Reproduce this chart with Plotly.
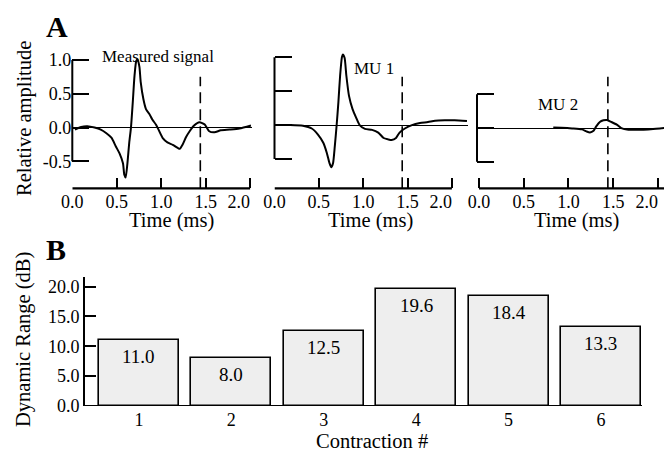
import plotly.graph_objects as go

# ---- data -------------------------------------------------------------
# Panel A: measured signal and the two decomposed motor-unit potentials
t_measured = [0.03, 0.10, 0.17, 0.25, 0.32, 0.38, 0.44, 0.49, 0.53, 0.57, 0.585,
              0.60, 0.62, 0.64, 0.66, 0.68, 0.70, 0.72, 0.735, 0.755, 0.77, 0.80,
              0.83, 0.87, 0.90, 0.94, 0.97, 1.02, 1.07, 1.13, 1.19, 1.21, 1.24,
              1.28, 1.32, 1.37, 1.43, 1.49, 1.54, 1.60, 1.67, 1.77, 1.88, 2.01]
a_measured = [-0.03, 0.01, 0.02, 0.0, -0.03, -0.08, -0.15, -0.28, -0.38, -0.53, -0.70,
              -0.74, -0.53, -0.23, 0.0, 0.37, 0.77, 0.99, 1.01, 0.90, 0.67, 0.42,
              0.27, 0.195, 0.12, 0.045, -0.03, -0.16, -0.22, -0.255, -0.305, -0.315, -0.255,
              -0.14, -0.055, 0.03, 0.08, 0.045, -0.055, -0.07, -0.04, -0.03, -0.015, 0.03]

t_mu1 = [0.03, 0.17, 0.32, 0.42, 0.49, 0.55, 0.59, 0.62, 0.64, 0.66, 0.68, 0.70,
         0.72, 0.74, 0.76, 0.77, 0.79, 0.81, 0.84, 0.88, 0.92, 0.96, 1.02, 1.10,
         1.17, 1.23, 1.28, 1.32, 1.37, 1.41, 1.47, 1.55, 1.64, 1.73, 1.81, 1.92,
         2.03, 2.17]
a_mu1 = [0.0, 0.0, -0.01, -0.05, -0.14, -0.26, -0.41, -0.56, -0.62, -0.56, -0.31, -0.01,
         0.33, 0.73, 1.0, 1.04, 0.99, 0.73, 0.43, 0.235, 0.11, 0.0, -0.055, -0.07,
         -0.11, -0.19, -0.21, -0.22, -0.19, -0.11, -0.05, 0.0, 0.03, 0.045, 0.065, 0.07,
         0.07, 0.06]

t_mu2 = [0.83, 0.92, 1.04, 1.15, 1.20, 1.24, 1.28, 1.31, 1.35, 1.39, 1.43, 1.48,
         1.54, 1.59, 1.67, 1.78, 1.89, 2.02, 2.07]
a_mu2 = [0.01, 0.005, -0.005, -0.02, -0.05, -0.065, -0.04, 0.025, 0.09, 0.115, 0.12, 0.09,
         0.05, 0.0, -0.025, -0.025, -0.02, -0.005, 0.0]

marker_time = 1.44          # dashed reference instant (ms)

time_ticks = [0.0, 0.5, 1.0, 1.5, 2.0]
# last label is right-aligned on its tick (padded with no-break spaces)
time_tick_text = ["0.0", "0.5", "1.0", "1.5", "2.0" + "\u00a0" * 5]
amp_ticks = [-0.5, 0.0, 0.5, 1.0]
amp_tick_text = ["-0.5", "0.0", "0.5", "1.0"]

# Panel B: dynamic range per contraction
contractions = [1, 2, 3, 4, 5, 6]
dynamic_range = [11.0, 8.0, 12.5, 19.6, 18.4, 13.3]
dr_ticks = [0, 5, 10, 15, 20]
dr_tick_text = ["0.0", "5.0", "10.0", "15.0", "20.0"]

# ---- figure -----------------------------------------------------------
W, H = 664, 451
FONT = "Liberation Serif"


def px(x):
    return x / W


def py(y):
    return 1 - y / H


fig = go.Figure()

signals = [(t_measured, a_measured, "x", "y"),
           (t_mu1, a_mu1, "x2", "y2"),
           (t_mu2, a_mu2, "x3", "y3")]
for t, a, xr, yr in signals:
    fig.add_trace(go.Scatter(x=t, y=a, mode="lines", xaxis=xr, yaxis=yr,
                             line=dict(color="black", width=2, shape="spline", smoothing=0.6),
                             hoverinfo="skip", showlegend=False))

fig.add_trace(go.Bar(x=contractions, y=dynamic_range, xaxis="x4", yaxis="y4",
                     width=0.866, marker=dict(color="#eeeeee", line=dict(color="black", width=1.6)),
                     hoverinfo="skip", showlegend=False))
# value labels just below the top of each bar
for c, v in zip(contractions, dynamic_range):
    fig.add_annotation(x=c, y=v, xref="x4", yref="y4", text=f"{v:.1f}",
                       showarrow=False, yanchor="top", yshift=-4,
                       font=dict(family=FONT, size=19, color="black"))

tick_font = dict(family=FONT, size=18, color="black")

# panel geometry (pixel edges) and value ranges
panels = [
    # xaxis, yaxis, x-left px, x-right px, x range, y range, y tick values, show y labels
    ("xaxis", "yaxis", 72.3, 251.7, [0, 2.018], [-0.90, 1.15], amp_ticks, True),
    ("xaxis2", "yaxis2", 274.5, 467.5, [0, 2.176], [-0.93, 1.105], amp_ticks, False),
    ("xaxis3", "yaxis3", 477.0, 664.0, [-0.022, 2.067], [-0.893, 1.157], amp_ticks[:3], False),
]
top_px, bottom_px = 50.0, 188.3
layout_axes = {}
for i, (xa, ya, xl, xr, xrng, yrng, yt, ylab) in enumerate(panels):
    xname = "x" if i == 0 else f"x{i + 1}"
    yname = "y" if i == 0 else f"y{i + 1}"
    layout_axes[xa] = dict(domain=[px(xl), px(xr)], range=xrng, anchor=yname,
                           showline=False, showgrid=False, zeroline=False,
                           ticks="inside", ticklen=10, tickwidth=2, tickcolor="black",
                           tickvals=time_ticks, ticktext=time_tick_text,
                           ticklabelstandoff=1, ticklabeloverflow="allow",
                           tickfont=tick_font, fixedrange=True)
    layout_axes[ya] = dict(domain=[py(bottom_px), py(top_px)], range=yrng, anchor=xname,
                           showline=False, showgrid=False,
                           zeroline=True, zerolinecolor="black", zerolinewidth=1.3,
                           ticks="inside", ticklen=17, tickwidth=2, tickcolor="black",
                           tickvals=yt, ticktext=amp_tick_text[:len(yt)],
                           showticklabels=ylab, tickfont=tick_font, fixedrange=True)

    # bracket-style axis lines spanning the tick range
    fig.add_shape(type="line", xref=xname, yref=f"{yname} domain",
                  x0=0, x1=max(time_ticks) if i < 2 else xrng[1], y0=0, y1=0,
                  line=dict(color="black", width=2.2))
    fig.add_shape(type="line", xref=f"{xname} domain", yref=yname,
                  x0=0, x1=0, y0=min(yt), y1=max(yt),
                  line=dict(color="black", width=2))
    # dashed reference instant
    fig.add_shape(type="line", xref=xname, yref=f"{yname} domain",
                  x0=marker_time, x1=marker_time, y0=0,
                  y1=(bottom_px - 76.7) / (bottom_px - top_px),
                  line=dict(color="black", width=1.6, dash="11px,6px"))

# panel B category axis: labels only, baseline drawn as a shape below
layout_axes["xaxis4"] = dict(domain=[px(85), px(642)], range=[0.416, 6.444], anchor="y4",
                             showline=False, showgrid=False, zeroline=False,
                             ticks="inside", ticklen=4, tickcolor="rgba(0,0,0,0)",
                             tickvals=contractions, ticklabelstandoff=1,
                             tickfont=tick_font, fixedrange=True)
layout_axes["yaxis4"] = dict(domain=[py(406), py(277)], range=[0, 21.6], anchor="x4",
                             showline=True, linecolor="black", linewidth=2,
                             showgrid=False, zeroline=False,
                             ticks="inside", ticklen=11, tickwidth=2, tickcolor="black",
                             tickvals=dr_ticks, ticktext=dr_tick_text,
                             tickfont=tick_font, fixedrange=True)
fig.add_shape(type="line", xref="x4 domain", yref="y4", x0=0, x1=1, y0=0, y1=0,
              line=dict(color="black", width=2))


def label(text, x, y, size, bold=False, angle=0):
    fig.add_annotation(text=f"<b>{text}</b>" if bold else text,
                       xref="paper", yref="paper", x=px(x), y=py(y),
                       xanchor="center", yanchor="middle", showarrow=False,
                       textangle=angle, font=dict(family=FONT, size=size, color="black"))


label("A", 56.5, 26.5, 30, bold=True)
label("B", 55.5, 249, 30, bold=True)
label("Measured signal", 157.5, 56.5, 17)
label("MU 1", 374, 69, 17)
label("MU 2", 557.5, 104, 17)
label("Relative amplitude", 24, 119, 20.5, angle=-90)
label("Dynamic Range (dB)", 23, 340, 20.5, angle=-90)
for cx in (171, 371, 576):
    label("Time (ms)", cx, 220.5, 20.5)
label("Contraction #", 371.7, 441, 20.5)

fig.update_layout(width=W, height=H,
                  margin=dict(l=0, r=0, t=0, b=0, autoexpand=False),
                  paper_bgcolor="white", plot_bgcolor="white",
                  font=dict(family=FONT, color="black"), bargap=0,
                  **layout_axes)

fig.write_html("out.html")
